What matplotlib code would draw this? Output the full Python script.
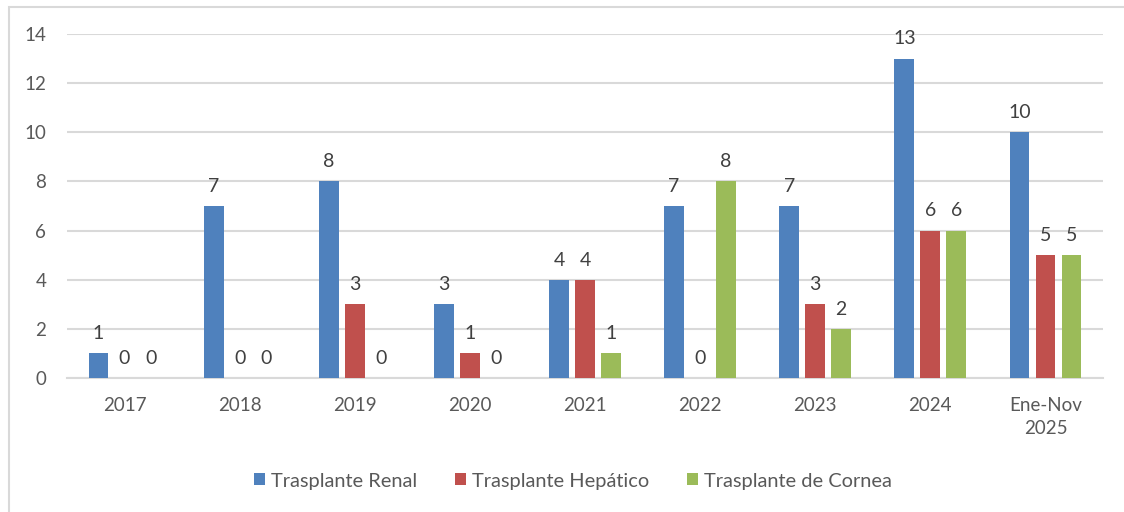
import matplotlib
matplotlib.use("Agg")
import matplotlib.pyplot as plt
from matplotlib.patches import Rectangle
import numpy as np

categories = ["2017", "2018", "2019", "2020", "2021", "2022", "2023", "2024", "Ene-Nov\n2025"]
series_names = ["Trasplante Renal", "Trasplante Hepático", "Trasplante de Cornea"]
renal = [1, 7, 8, 3, 4, 7, 7, 13, 10]
hepatico = [0, 0, 3, 1, 4, 0, 3, 6, 5]
cornea = [0, 0, 0, 0, 1, 8, 2, 6, 5]
colors = ["#4F81BD", "#C0504D", "#9BBB59"]
yticks = [0, 2, 4, 6, 8, 10, 12, 14]

plt.rcParams['font.family'] = ['Lato', 'DejaVu Sans']
txt = "#595959"

fig = plt.figure(figsize=(11.24, 5.12), dpi=100)
fig.patches.append(Rectangle((9/1124, -0.1), 1.2, 1 - 7/512 + 0.1, transform=fig.transFigure,
                             fill=False, edgecolor="#D9D9D9", linewidth=1.5))
ax = fig.add_axes([67/1124, 1 - 378/512, 1036/1124, 344/512])

x = np.arange(len(categories))
step = 0.226
width = 0.172
for i, (vals, name, c) in enumerate(zip([renal, hepatico, cornea], series_names, colors)):
    pos = x + (i - 1) * step
    ax.bar(pos, vals, width=width, color=c, label=name, zorder=3)
    for p, v in zip(pos, vals):
        ax.annotate(str(v), (p, v), xytext=(0, 8), textcoords="offset points",
                    ha="center", va="bottom", fontsize=14, color="#404040")

ax.set_xlim(-0.5, len(categories) - 0.5)
ax.set_ylim(0, 14)
ax.set_yticks(yticks)
ax.set_xticks(x)
ax.set_xticklabels(categories, linespacing=1.38)
ax.grid(axis="y", color="#D9D9D9", linewidth=1.5, zorder=0)
for s in ["top", "right", "left"]:
    ax.spines[s].set_visible(False)
ax.spines["bottom"].set_color("#D9D9D9")
ax.spines["bottom"].set_linewidth(1.5)
ax.tick_params(axis="both", length=0, labelsize=13.5, colors=txt)
ax.tick_params(axis="y", pad=15)
ax.tick_params(axis="x", pad=14)

leg = fig.legend(loc="center", bbox_to_anchor=(573/1124, 1 - 481/512), ncol=3, frameon=False,
                 fontsize=14.4, handlelength=0.55, handleheight=0.55, columnspacing=1.9,
                 handletextpad=0.3)
for t in leg.get_texts():
    t.set_color(txt)

fig.savefig("out.png", dpi=100)
